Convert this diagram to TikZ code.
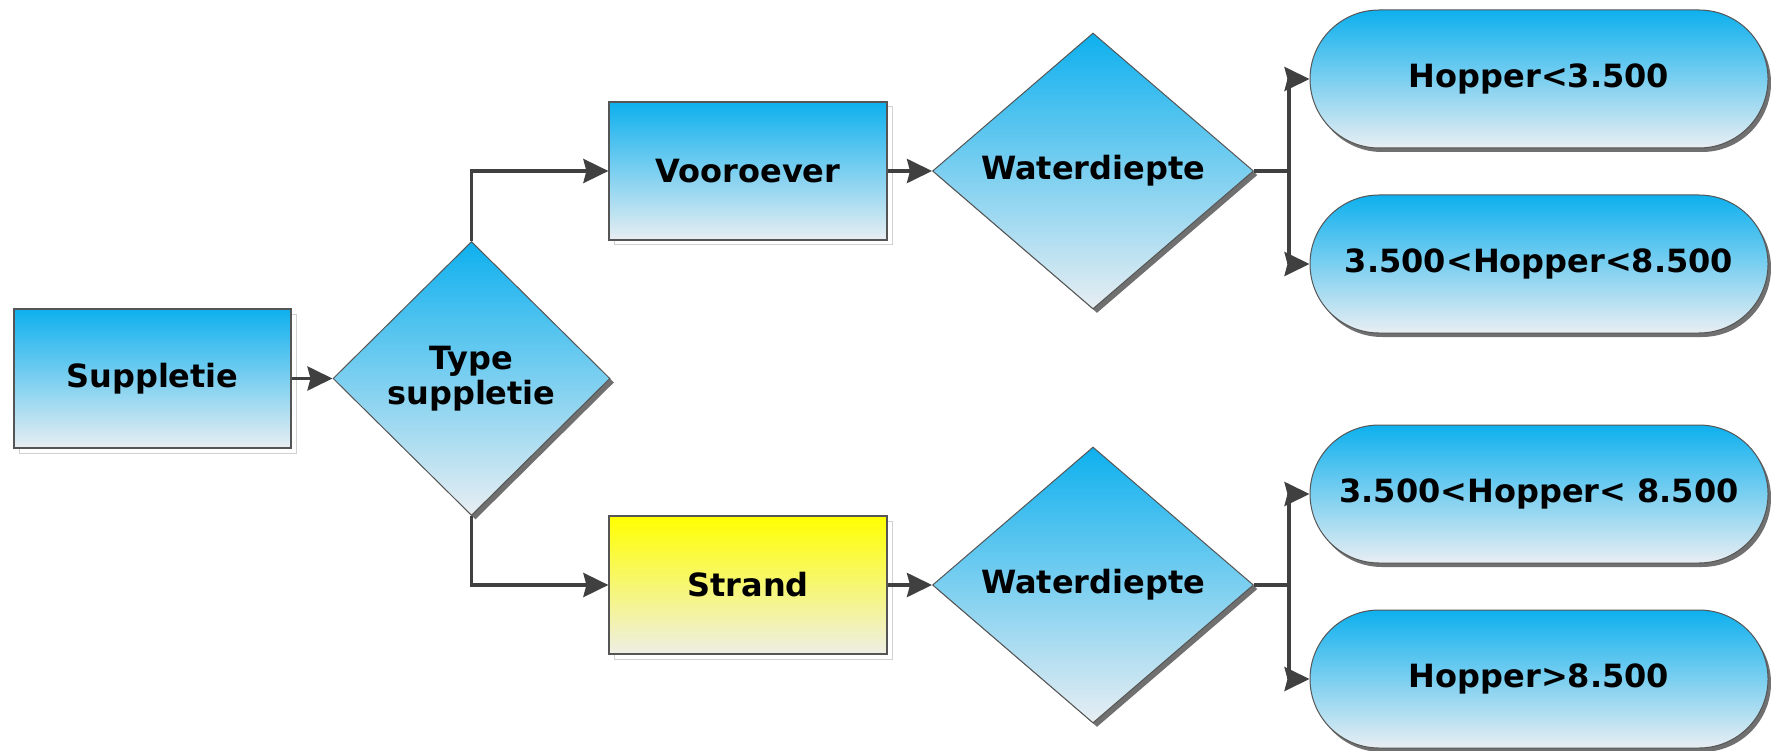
\documentclass[tikz,border=0pt]{standalone}
\usepackage{fontspec}
\setmainfont{DejaVu Sans}
\usetikzlibrary{shapes.geometric,shapes.misc,shadows,arrows.meta}
\definecolor{topblue}{HTML}{0EB0EE}
\definecolor{botblue}{HTML}{E8EEF2}
\definecolor{topyel}{HTML}{FFFF00}
\definecolor{botyel}{HTML}{EEEEE6}
\definecolor{edgecol}{HTML}{555555}
\definecolor{conncol}{HTML}{404040}
\definecolor{shadecol}{HTML}{707070}
\begin{document}
\begin{tikzpicture}[x=1pt,y=-1pt,
  lbl/.style={font=\fontsize{32}{37}\selectfont\bfseries, text=black, align=center},
  procbox/.style={lbl, rectangle, draw=edgecol, line width=1.2pt,
    top color=topblue, bottom color=botblue,
    minimum width=278pt, minimum height=138pt, inner sep=0pt,
    drop shadow={shadow xshift=5pt, shadow yshift=-5pt, fill=white, draw=black!18, line width=1pt, opacity=1}},
  yelbox/.style={procbox, top color=topyel, bottom color=botyel},
  decision/.style={lbl, diamond, draw=edgecol, line width=1pt,
    top color=topblue, bottom color=botblue, inner sep=0pt,
    drop shadow={shadow xshift=4pt, shadow yshift=-4pt, fill=shadecol, opacity=1}},
  termbox/.style={lbl, rounded rectangle, draw=edgecol, line width=1pt,
    top color=topblue, bottom color=botblue, inner sep=0pt,
    minimum width=458pt, minimum height=138pt,
    drop shadow={shadow xshift=3pt, shadow yshift=-4pt, fill=shadecol, opacity=1}},
  conn/.style={draw=conncol, line width=3.6pt},
  arr/.style={conn, -{Stealth[length=25pt,width=24pt,inset=3pt]}}
]
\useasboundingbox (0,0) rectangle (1771,751);

\node[procbox, minimum width=277pt, minimum height=139pt] (sup) at (152.5,378.5) {Suppletie};
\node[decision, minimum width=277pt, minimum height=274pt] (type) at (471.5,378.5) {Type\\[-2pt]suppletie};
\node[procbox] (voor) at (748,171) {Vooroever};
\node[yelbox] (strand) at (748,585) {Strand};
\node[decision, minimum width=321pt, minimum height=276pt] (wd1) at (1093,171) {Waterdiepte};
\node[decision, minimum width=321pt, minimum height=276pt] (wd2) at (1093,585) {Waterdiepte};
\node[termbox] (t1) at (1539,79) {Hopper<3.500};
\node[termbox] (t2) at (1539,264) {3.500<Hopper<8.500};
\node[termbox] (t3) at (1539,494) {3.500<Hopper< 8.500};
\node[termbox] (t4) at (1539,679) {Hopper>8.500};

\coordinate (b1) at (1289,171);
\coordinate (b2) at (1289,585);

\draw[arr] (sup.east) -- (type.west);
\draw[arr] (type.north) |- (voor.west);
\draw[arr] (type.south) |- (strand.west);
\draw[arr] (voor.east) -- (wd1.west);
\draw[arr] (strand.east) -- (wd2.west);
\draw[conn] (wd1.east) -- (b1);
\draw[conn] (wd2.east) -- (b2);
\draw[arr] (b1) |- (t1.west);
\draw[arr] (b1) |- (t2.west);
\draw[arr] (b2) |- (t3.west);
\draw[arr] (b2) |- (t4.west);
\end{tikzpicture}
\end{document}
